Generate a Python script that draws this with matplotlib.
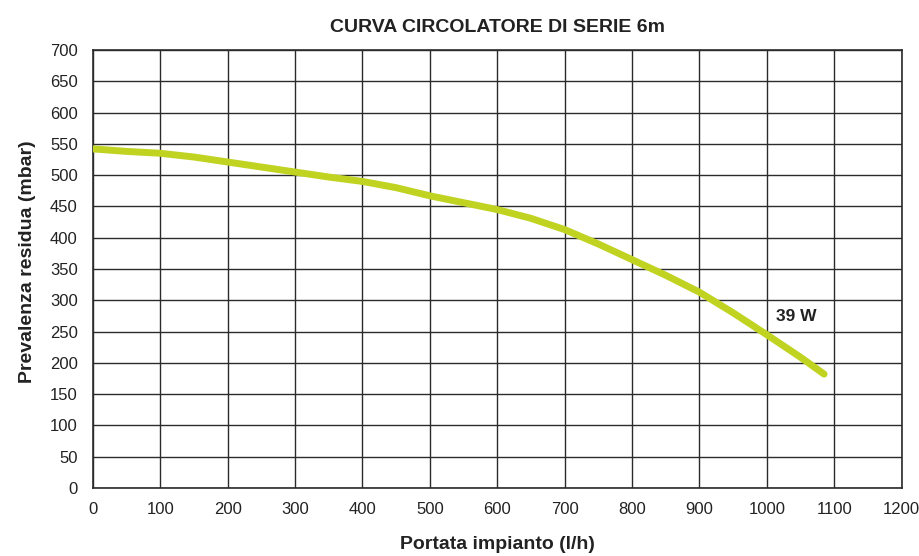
import numpy as np
import matplotlib
matplotlib.use("Agg")
import matplotlib.pyplot as plt

# dati
portata = [0, 50, 100, 150, 200, 250, 300, 350, 400, 450, 500, 550, 600,
           650, 700, 750, 800, 850, 900, 950, 1000, 1050, 1085]
prevalenza = [542, 538, 535, 529, 521, 513, 505, 497, 490, 480, 467, 456, 445,
              431, 413, 390, 365, 340, 313, 280, 245, 209, 182]

x_ticks = list(range(0, 1201, 100))
y_ticks = list(range(0, 701, 50))

titolo = "CURVA CIRCOLATORE DI SERIE 6m"
etichetta_x = "Portata impianto (l/h)"
etichetta_y = "Prevalenza residua (mbar)"
etichetta_curva = "39 W"

plt.rcParams['font.family'] = ['Liberation Sans Narrow', 'Liberation Sans', 'DejaVu Sans']

fig = plt.figure(figsize=(9.2, 5.56), dpi=100)
ax = fig.add_axes([0.101, 0.1223, 0.879, 0.7877])

ax.set_xlim(0, 1200)
ax.set_ylim(0, 700)
ax.set_xticks(x_ticks)
ax.set_yticks(y_ticks)
ax.grid(True, color='#2b2b2b', linewidth=1.0)
ax.set_axisbelow(True)
for s in ax.spines.values():
    s.set_color('#2b2b2b')
    s.set_linewidth(1.2)
ax.tick_params(length=0, labelsize=12, colors='#222222')
ax.tick_params(axis='x', pad=10)
ax.tick_params(axis='y', pad=11)

ax.plot(portata, prevalenza, color='#c0d321', linewidth=5, solid_capstyle='round',
        solid_joinstyle='round', zorder=3)
ax.text(1044, 274, etichetta_curva, fontsize=12.5, fontweight='bold', color='#222222',
        ha='center', va='center')

ax.set_title(titolo, fontsize=14, fontweight='bold', color='#222222', pad=13)
ax.set_xlabel(etichetta_x, fontsize=14, fontweight='bold', color='#222222', labelpad=14)
ax.set_ylabel(etichetta_y, fontsize=14, fontweight='bold', color='#222222')
ax.yaxis.set_label_coords(-0.071, 0.516)

fig.savefig("out.png", dpi=100)
